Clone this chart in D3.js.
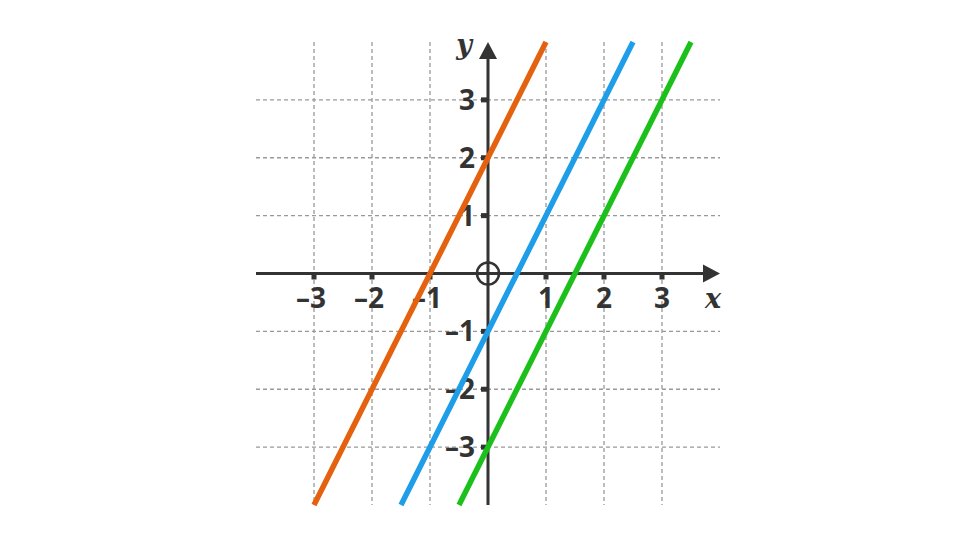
<!DOCTYPE html>
<html>
<head>
<meta charset="utf-8">
<script src="https://cdn.jsdelivr.net/npm/d3@7"></script>
<style>
  body { margin: 0; background: #fff; }
  svg { display: block; }
</style>
</head>
<body>
<script>
document.addEventListener('DOMContentLoaded', function() {
    const w = 976;
    const h = 549;

    // tick values and labels
    const xTicks = [-3, -2, -1, 1, 2, 3];
    const yTicks = [-3, -2, -1, 1, 2, 3];
    const tickLabel = d => (d < 0 ? "\u2013" + Math.abs(d) : String(d));

    // three parallel lines y = m x + c
    const lineNames = ["orange", "blue", "green"];
    const lineSlopes = [2, 2, 2];
    const lineIntercepts = [2, -1, -3];
    const lineColors = ["#e4620f", "#1e9de8", "#1cc01a"];

    const svg = d3.select("body")
        .append("svg")
        .attr("width", w)
        .attr("height", h);

    // Scales
    const xScale = d3.scaleLinear().domain([-4, 4]).range([256, 720]);
    const yScale = d3.scaleLinear().domain([-4, 4]).range([505, 42]);

    // Grid
    const grid = svg.append("g")
        .attr("stroke", "#999")
        .attr("stroke-width", 1.3)
        .attr("stroke-dasharray", "4,3");

    grid.selectAll(".vgrid")
        .data(xTicks)
        .enter()
        .append("line")
        .attr("x1", d => xScale(d))
        .attr("x2", d => xScale(d))
        .attr("y1", yScale(4))
        .attr("y2", yScale(-4));

    grid.selectAll(".hgrid")
        .data(yTicks)
        .enter()
        .append("line")
        .attr("x1", xScale(-4))
        .attr("x2", xScale(4))
        .attr("y1", d => yScale(d))
        .attr("y2", d => yScale(d));

    // Axes
    const axes = svg.append("g").attr("stroke", "#333").attr("stroke-width", 3);
    axes.append("line")
        .attr("x1", xScale(-4)).attr("x2", xScale(4) - 12)
        .attr("y1", yScale(0)).attr("y2", yScale(0));
    axes.append("line")
        .attr("x1", xScale(0)).attr("x2", xScale(0))
        .attr("y1", yScale(-4)).attr("y2", yScale(4) + 12);

    // Arrow heads
    const x0 = xScale(0), y0 = yScale(0);
    svg.append("path")
        .attr("d", `M${xScale(4)},${y0} L${xScale(4) - 17},${y0 - 9} L${xScale(4) - 17},${y0 + 9} Z`)
        .attr("fill", "#333");
    svg.append("path")
        .attr("d", `M${x0},${yScale(4)} L${x0 - 9},${yScale(4) + 17} L${x0 + 9},${yScale(4) + 17} Z`)
        .attr("fill", "#333");

    // Tick marks
    svg.selectAll(".xtick")
        .data(xTicks)
        .enter()
        .append("rect")
        .attr("x", d => xScale(d) - 2.5)
        .attr("y", y0)
        .attr("width", 5)
        .attr("height", 6)
        .attr("fill", "#333");

    svg.selectAll(".ytick")
        .data(yTicks)
        .enter()
        .append("rect")
        .attr("x", x0 - 7)
        .attr("y", d => yScale(d) - 2.5)
        .attr("width", 7)
        .attr("height", 5)
        .attr("fill", "#333");

    // Tick labels
    const labelFont = "'Open Sans', 'Noto Sans', sans-serif";
    svg.selectAll(".xlabel")
        .data(xTicks)
        .enter()
        .append("text")
        .attr("font-family", labelFont)
        .attr("font-weight", 700)
        .attr("font-size", 28)
        .attr("fill", "#333")
        .attr("x", d => xScale(d) - (d < 0 ? 3 : 0))
        .attr("y", y0 + 34)
        .attr("text-anchor", "middle")
        .text(tickLabel);

    svg.selectAll(".ylabel")
        .data(yTicks)
        .enter()
        .append("text")
        .attr("font-family", labelFont)
        .attr("font-weight", 700)
        .attr("font-size", 28)
        .attr("fill", "#333")
        .attr("x", x0 - 13)
        .attr("y", d => yScale(d) + 10)
        .attr("text-anchor", "end")
        .text(tickLabel);

    // Axis names
    const nameFont = "'DejaVu Serif', 'Liberation Serif', serif";
    svg.append("text")
        .attr("font-family", nameFont).attr("font-style", "italic")
        .attr("font-weight", 700).attr("font-size", 27).attr("fill", "#333")
        .attr("x", xScale(4) - 7).attr("y", y0 + 34)
        .attr("text-anchor", "middle").text("x");
    svg.append("text")
        .attr("font-family", nameFont).attr("font-style", "italic")
        .attr("font-weight", 700).attr("font-size", 27).attr("fill", "#333")
        .attr("x", x0 - 24).attr("y", yScale(4) + 12)
        .attr("text-anchor", "middle").text("y");

    // Origin circle
    svg.append("circle")
        .attr("cx", x0).attr("cy", y0).attr("r", 11)
        .attr("fill", "none").attr("stroke", "#333").attr("stroke-width", 2.5);

    // Lines, clipped to y in [-4, 4]
    const lineData = lineNames.map((name, i) => {
        const m = lineSlopes[i], c = lineIntercepts[i];
        return [[(-4 - c) / m, -4], [(4 - c) / m, 4]];
    });

    const line = d3.line().x(d => xScale(d[0])).y(d => yScale(d[1]));

    svg.selectAll(".fn")
        .data(lineData)
        .enter()
        .append("path")
        .attr("d", line)
        .attr("fill", "none")
        .attr("stroke", (d, i) => lineColors[i])
        .attr("stroke-width", 5.5);
});
</script>
</body>
</html>
